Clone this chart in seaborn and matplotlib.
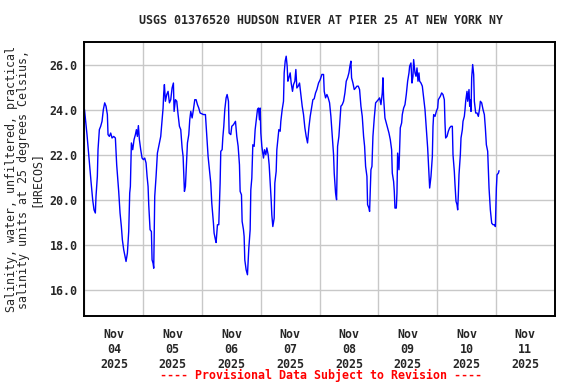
import pandas as pd
import matplotlib
matplotlib.use('Agg')
import matplotlib.pyplot as plt
import matplotlib.dates as mdates
import seaborn as sb

# hours since 2025-11-04 00:00 and salinity (psu)
hours = [0.0, 1.02, 1.71, 2.66, 3.34, 3.89, 4.43, 4.70, 5.25, 5.52, 6.07, 6.61, 7.16, 7.70, 8.25, 8.79, 9.34, 9.61,
         10.16, 10.70, 11.25, 11.93, 12.61, 13.15, 13.97, 14.52, 15.06, 15.47, 16.02, 16.43, 16.97, 17.52, 18.06,
         18.47, 18.74, 19.15, 19.70, 20.24, 20.79, 21.20, 21.60, 22.01, 22.42, 22.97, 23.51, 24.06, 24.60, 25.15,
         25.56, 25.97, 26.24, 26.78, 27.33, 27.60, 28.01, 28.28, 28.69, 29.24, 29.78, 30.33, 30.87, 31.14, 31.69,
         32.10, 32.37, 32.64, 33.05, 33.60, 34.14, 34.69, 35.23, 35.78, 36.32, 36.60, 37.14, 37.69, 38.23, 38.78,
         39.32, 39.87, 40.28, 40.55, 40.82, 41.23, 41.64, 42.05, 42.60, 43.00, 43.41, 43.96, 44.50, 45.05, 45.59,
         46.14, 46.68,
         47.22, 48.58, 49.40, 49.95, 50.49, 51.04, 51.58, 51.99, 52.67, 52.94, 53.49, 53.76, 54.31, 54.85, 55.40,
         55.67, 56.22, 56.49, 56.90, 57.31, 57.85, 58.26, 58.81, 59.08, 59.76, 60.17, 60.85, 61.26, 61.67, 62.21,
         62.76, 63.30, 63.58, 64.12, 64.39, 64.94, 65.21, 65.48, 66.03, 66.57, 67.12, 67.67, 67.94, 68.35, 68.76,
         69.30, 69.71, 70.12, 70.66, 71.07, 71.48, 71.75, 72.03, 72.44, 73.12, 73.53, 74.07, 74.48, 75.03, 75.43,
         75.84, 76.25, 76.52, 76.93, 77.48, 77.75, 78.30, 78.57, 78.98, 79.39, 79.93, 80.20, 80.75, 81.29, 81.57,
         81.98, 82.39, 82.79, 83.07, 83.48, 84.02, 84.43, 84.97, 85.38, 85.93, 86.34, 86.75, 87.29, 87.84, 88.38,
         88.93, 89.47, 90.02, 90.56, 91.11, 91.65, 92.20, 92.74, 93.29, 93.83, 94.38, 94.92, 95.61,
         96.29, 96.97, 97.65, 97.93, 98.47, 99.02, 99.56, 100.11, 100.65, 101.20, 101.74, 102.01, 102.56, 102.97,
         103.38, 103.92, 104.47, 104.74, 105.29, 105.83, 106.38, 106.92, 107.47, 108.01, 108.42, 108.83, 109.10,
         109.65, 110.19, 110.74, 111.28, 111.83, 112.37, 112.92, 113.46, 114.01, 114.42, 114.83, 115.37, 115.64,
         116.19, 116.46, 117.01, 117.42, 117.82, 118.37, 118.92, 119.46, 120.01, 120.55, 121.10, 121.64, 121.91,
         122.19, 122.73, 123.28, 123.82, 124.37, 124.91, 125.46, 125.73, 126.27, 126.55, 126.82, 127.37, 127.64,
         127.91, 128.46, 129.00, 129.55, 129.82, 130.36, 130.91, 131.45, 132.00, 132.55, 132.82, 133.36, 133.77,
         134.18, 134.45, 135.00, 135.41, 135.82, 136.22, 136.63, 136.91, 137.45, 138.00, 138.54, 139.09, 139.63,
         140.18, 140.72, 141.00, 141.54, 142.09, 142.36, 142.63, 143.18, 143.72, 144.27, 144.54,
         145.35, 145.90, 146.44, 146.99, 147.26, 147.53, 148.08, 148.62, 149.17, 149.71, 150.26, 150.53, 151.07,
         151.35, 151.76, 152.17, 152.44, 152.71, 152.98, 153.53, 153.80, 154.35, 154.62, 155.16, 155.44, 155.71,
         156.25, 156.53, 157.07, 157.34, 157.62, 157.89, 158.16, 158.57, 158.98, 159.25, 159.80, 160.34, 160.89,
         161.43, 161.71, 162.25, 162.80, 163.34, 163.75, 164.16, 164.70, 165.25, 165.79, 166.34, 166.88, 167.43,
         167.84, 168.25, 168.52, 169.07, 169.34]

salinity = [24.00, 22.89, 22.00, 20.81, 20.00, 19.55, 19.41, 20.15, 21.04, 22.22, 23.11, 23.26, 23.48, 24.00, 24.30,
            24.15, 23.78, 22.89, 22.81, 22.96, 22.74, 22.81, 22.74, 21.55, 20.37, 19.41, 18.81, 18.22, 17.78, 17.55,
            17.26, 17.63, 18.59, 20.30, 20.59, 22.52, 22.22, 22.67, 22.89, 23.11, 22.81, 23.29, 22.67, 22.22, 21.85,
            21.78, 21.85, 21.63, 21.04, 20.59, 19.78, 18.67, 18.59, 17.33, 17.18, 16.96, 20.15, 21.04, 22.07, 22.37,
            22.67, 22.81, 23.55, 24.07, 24.74, 25.11, 24.37, 24.67, 24.81, 24.30, 24.44, 24.96, 25.18, 23.92, 24.44,
            24.37, 23.78, 23.26, 23.11, 22.30, 21.92, 21.11, 20.37, 20.59, 21.55, 22.52, 22.89, 23.55, 23.92, 23.63,
            24.00, 24.44, 24.44, 24.22, 24.07,
            23.85, 23.78, 23.78, 22.81, 21.92, 21.33, 20.74, 19.85, 18.96, 18.52, 18.22, 18.10, 18.89, 18.89, 20.74,
            22.15, 22.22, 22.74, 23.26, 24.00, 24.52, 24.67, 24.37, 22.96, 22.89, 23.26, 23.33, 23.41, 23.48, 22.81,
            22.37, 21.55, 20.37, 20.22, 19.04, 18.67, 18.37, 17.33, 16.89, 16.67, 17.85, 18.67, 20.44, 20.96, 22.44,
            22.37, 23.11, 23.48, 24.00, 24.07, 23.55, 24.07, 22.96, 22.37, 21.85, 22.22, 22.00, 22.30, 22.00, 21.55,
            20.81, 20.00, 19.33, 18.81, 19.18, 20.74, 21.26, 22.22, 22.67, 23.11, 23.04, 23.48, 24.00, 24.37, 25.63,
            26.15, 26.37, 25.93, 25.26, 25.41, 25.63, 25.18, 24.81, 25.11, 25.26, 25.78, 24.96, 25.04, 25.18, 24.67,
            24.15, 23.78, 23.19, 22.81, 22.52, 23.19, 23.70, 24.07, 24.44, 24.48, 24.74, 24.89, 25.18,
            25.33, 25.56, 25.56, 24.81, 24.52, 24.67, 24.52, 24.30, 23.70, 22.81, 22.00, 21.18, 20.30, 20.00,
            22.37, 22.81, 23.70, 24.15, 24.22, 24.37, 24.74, 25.26, 25.41, 25.63, 25.93, 26.15, 25.41,
            25.18, 24.89, 24.96, 25.04, 25.04, 24.89, 24.15, 23.70, 22.81, 22.37, 21.48, 21.04, 19.78,
            19.63, 19.48, 21.33, 21.48, 22.81, 23.63, 24.30, 24.37, 24.44, 24.52, 24.22, 24.74, 25.41,
            24.52, 23.63, 23.41, 23.19, 22.96, 22.67, 22.22, 21.18, 20.81, 20.37, 19.63, 19.63, 20.30,
            22.07, 21.33, 23.19, 23.41, 23.78, 24.07, 24.22, 24.67, 25.26, 25.63, 25.93, 26.07, 25.18,
            25.48, 26.22, 25.63, 25.48, 25.85, 25.26, 25.63, 25.26, 25.18, 25.04, 24.52, 24.00, 23.19,
            22.30, 21.18, 20.52, 21.04, 21.92, 23.26, 23.78, 23.70, 23.92, 24.07, 24.44,
            24.59, 24.74, 24.67, 24.44, 23.41, 22.74, 22.81, 23.04, 23.19, 23.26, 23.26, 22.00, 21.26,
            20.67, 19.93, 19.78, 19.55, 20.22, 21.11, 22.00, 22.74, 23.11, 23.48, 23.70, 24.00, 24.37,
            24.81, 24.37, 24.89, 24.15, 24.44, 23.92, 25.41, 26.00, 25.56, 24.37, 23.85, 23.85, 23.70,
            24.07, 24.37, 24.30, 24.00, 23.78, 23.19, 22.44, 22.15, 20.52, 19.55, 18.96, 18.89, 18.89,
            18.81, 20.52, 21.11, 21.18, 21.29]

start = pd.Timestamp('2025-11-04')
end = pd.Timestamp('2025-11-12')
yticks = [16.0, 18.0, 20.0, 22.0, 24.0, 26.0]

df = pd.DataFrame({'time': start + pd.to_timedelta(hours, unit='h'), 'salinity': salinity})

sb.set_style('white')
plt.rcParams['font.family'] = ['DejaVu Sans Mono']
plt.rcParams['font.weight'] = 'bold'
plt.rcParams['font.size'] = 8.4

fig = plt.figure(figsize=(5.76, 3.84), dpi=100)
ax = fig.add_axes([0.1467, 0.1771, 0.816, 0.7135])

sb.lineplot(data=df, x='time', y='salinity', ax=ax, color='#0000ff', linewidth=1.0)

ax.set_xlim(start, end)
ax.set_ylim(14.84, 27.0)
ax.set_yticks(yticks)
ax.set_yticklabels([f'{v:.1f}' for v in yticks])

# grid on midnights, labels at noon
ax.xaxis.set_major_locator(mdates.DayLocator())
ax.xaxis.set_major_formatter(plt.NullFormatter())
ax.xaxis.set_minor_locator(mdates.HourLocator(byhour=[12]))
ax.xaxis.set_minor_formatter(mdates.DateFormatter('%b\n%d\n%Y'))
ax.tick_params(axis='x', which='both', length=0, pad=9)
ax.tick_params(axis='y', length=0, pad=5)

ax.grid(True, which='major', color='#c8c8c8', linewidth=1.0)
for s in ax.spines.values():
    s.set_color('black')
    s.set_linewidth(1.4)

ax.set_xlabel('')
ax.set_ylabel('Salinity, water, unfiltered, practical\nsalinity units at 25 degrees Celsius,\n[HRECOS]',
              linespacing=0.92)
ax.yaxis.set_label_coords(-0.09, 0.5)

fig.text(0.557, 0.946, 'USGS 01376520 HUDSON RIVER AT PIER 25 AT NEW YORK NY', ha='center', va='center')
fig.text(0.557, 0.022, '---- Provisional Data Subject to Revision ----', ha='center', va='center', color='red')

fig.savefig('out.png', dpi=100)
